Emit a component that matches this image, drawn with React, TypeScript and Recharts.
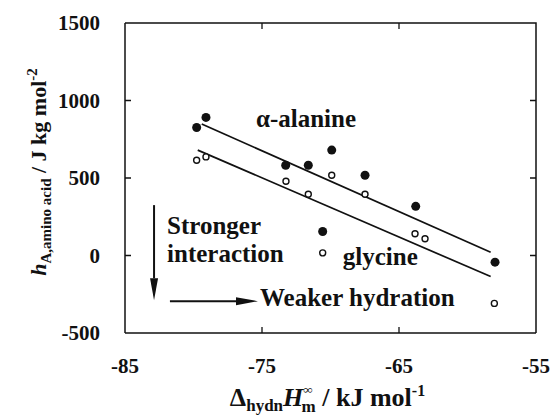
import React from 'react';
import {
  ComposedChart, Scatter, Line, XAxis, YAxis, Label, ReferenceDot, ReferenceLine,
} from 'recharts';

// axis ticks
const xTicks = [-85, -75, -65, -55];
const yTicks = [-500, 0, 500, 1000, 1500];

// alpha-alanine (filled circles)
const alanineX = [-79.77, -79.09, -73.27, -71.62, -70.57, -69.91, -67.48, -63.78, -57.99];
const alanineY = [826, 891, 582, 582, 155, 680, 518, 317, -43];

// glycine (open circles)
const glycineX = [-79.77, -79.09, -73.25, -71.62, -70.57, -69.91, -67.48, -63.83, -63.1, -58.04];
const glycineY = [615, 636, 479, 395, 17, 518, 395, 140, 108, -309];

// fitted straight lines (end points)
const alanineFitX = [-79.4, -58.31];
const alanineFitY = [848, 21];
const glycineFitX = [-79.69, -58.31];
const glycineFitY = [680, -136];

const zip = (xs: number[], ys: number[]) => xs.map((x, i) => ({ x, y: ys[i] }));

const alanine = zip(alanineX, alanineY);
const glycine = zip(glycineX, glycineY);
const alanineFit = zip(alanineFitX, alanineFitY);
const glycineFit = zip(glycineFitX, glycineFitY);

const xMin = xTicks[0];
const xMax = xTicks[xTicks.length - 1];
const yMin = yTicks[0];
const yMax = yTicks[yTicks.length - 1];

// layout
const W = 556;
const H = 419;
const M = { top: 23, right: 20, bottom: 0, left: 0 };
const Y_AXIS_W = 125;
const X_AXIS_H = 86;
const PLOT_W = W - M.left - M.right - Y_AXIS_W;
const PLOT_H = H - M.top - M.bottom - X_AXIS_H;

const INK = '#111';
const txt = (size: number): React.CSSProperties => ({
  fontFamily: '"Liberation Serif", "Times New Roman", serif',
  fontWeight: 700,
  fontSize: size,
  fill: INK,
});

const same = (a: any, b: number) => Math.abs(Number(a) - b) < 1e-6;

// bottom ticks also draw the mirrored inward ticks on the top side
const BottomTick = (props: any) => {
  const x = Number(props.x);
  const y = Number(props.y);
  const v = props.payload.value;
  const inner = !same(v, xMin) && !same(v, xMax);
  const top = y - PLOT_H;
  return (
    <g>
      {inner ? (
        <path d={`M${x},${y}V${y - 6}M${x},${top}V${top + 6}`} stroke={INK} strokeWidth={1.3} fill="none" />
      ) : null}
      <text x={x} y={y + 40} textAnchor="middle" style={txt(21)}>
        {v}
      </text>
    </g>
  );
};

// left ticks also draw the mirrored inward ticks on the right side
const LeftTick = (props: any) => {
  const x = Number(props.x);
  const y = Number(props.y);
  const v = props.payload.value;
  const inner = !same(v, yMin) && !same(v, yMax);
  const right = x + PLOT_W;
  return (
    <g>
      {inner ? (
        <path d={`M${x},${y}H${x + 6}M${right},${y}H${right - 6}`} stroke={INK} strokeWidth={1.3} fill="none" />
      ) : null}
      <text x={x - 25} y={y + 7} textAnchor="end" style={txt(21)}>
        {v}
      </text>
    </g>
  );
};

// y title; its label box (the y-axis band) also gives the top and right sides of the frame
const YTitle = (props: any) => {
  const vb = props.viewBox;
  const left = Number(vb.x) + Number(vb.width);
  const top = Number(vb.y);
  const bottom = top + Number(vb.height);
  const right = left + PLOT_W;
  const cx = Number(vb.x) + 46;
  const cy = top + Number(vb.height) / 2 - 6;
  return (
    <g>
      <path d={`M${left},${top}H${right}V${bottom}`} stroke={INK} strokeWidth={1.5} fill="none" />
      <text x={cx} y={cy} transform={`rotate(-90, ${cx}, ${cy})`} textAnchor="middle" style={txt(22)}>
        <tspan fontStyle="italic">h</tspan>
        <tspan fontSize={15} dy={5}>A,amino acid</tspan>
        <tspan dy={-5}> / J kg mol</tspan>
        <tspan fontSize={15} dy={-9}>-2</tspan>
      </text>
    </g>
  );
};

const XTitle = (props: any) => {
  const { viewBox } = props;
  const cx = viewBox.x + viewBox.width / 2 - 3;
  const cy = viewBox.y + 73;
  return (
    <text x={cx} y={cy} textAnchor="middle" style={txt(26)}>
      <tspan>Δ</tspan>
      <tspan fontSize={17} dy={5}>hydn</tspan>
      <tspan fontStyle="italic" dy={-5}>H</tspan>
      <tspan fontSize={13} dy={-12}>∞</tspan>
      <tspan fontSize={17} dx={-11} dy={18}>m</tspan>
      <tspan dy={-6}> / kJ mol</tspan>
      <tspan fontSize={16} dy={-10}>-1</tspan>
    </text>
  );
};

const textShape = (lines: string[]) => (p: any) => (
  <text x={p.cx} y={p.cy} style={txt(25)}>
    {lines.map((s, i) => (
      <tspan key={s} x={p.cx} dy={i === 0 ? 0 : 28}>{s}</tspan>
    ))}
  </text>
);

const Arrow = (p: any) => {
  const { x1, y1, x2, y2 } = p;
  const len = Math.hypot(x2 - x1, y2 - y1);
  const ux = (x2 - x1) / len;
  const uy = (y2 - y1) / len;
  const head = 22;
  const half = 4;
  const bx = x2 - ux * head;
  const by = y2 - uy * head;
  return (
    <g>
      <line x1={x1} y1={y1} x2={bx} y2={by} stroke={INK} strokeWidth={2} />
      <polygon
        points={`${x2},${y2} ${bx - uy * half},${by + ux * half} ${bx + uy * half},${by - ux * half}`}
        fill={INK}
      />
    </g>
  );
};

const filledDot = (p: any) => <circle cx={p.cx} cy={p.cy} r={4.5} fill={INK} />;
const openDot = (p: any) => <circle cx={p.cx} cy={p.cy} r={3} fill="#fff" stroke={INK} strokeWidth={1.4} />;

export default function App() {
  return (
    <div style={{ position: 'absolute', left: 0, top: 0, background: '#fff' }}>
      <ComposedChart width={W} height={H} margin={M}>
        <XAxis
          dataKey="x" type="number" domain={[xMin, xMax]} ticks={xTicks} interval={0}
          height={X_AXIS_H} tickSize={0} tickMargin={0} tickLine={false}
          axisLine={{ stroke: INK, strokeWidth: 1.5 }} tick={<BottomTick />}
        >
          <Label content={<XTitle />} />
        </XAxis>
        <YAxis
          type="number" domain={[yMin, yMax]} ticks={yTicks} interval={0} width={Y_AXIS_W}
          tickSize={0} tickMargin={0} tickLine={false}
          axisLine={{ stroke: INK, strokeWidth: 1.5 }} tick={<LeftTick />}
        >
          <Label content={<YTitle />} />
        </YAxis>

        <Line data={alanineFit} dataKey="y" type="linear" stroke={INK} strokeWidth={1.7} dot={false} isAnimationActive={false} />
        <Line data={glycineFit} dataKey="y" type="linear" stroke={INK} strokeWidth={1.7} dot={false} isAnimationActive={false} />
        <Scatter data={alanine} dataKey="y" shape={filledDot} isAnimationActive={false} />
        <Scatter data={glycine} dataKey="y" shape={openDot} isAnimationActive={false} />

        <ReferenceDot x={-75.44} y={829} r={0} shape={textShape(['α-alanine'])} />
        <ReferenceDot x={-81.93} y={138} r={0} shape={textShape(['Stronger', 'interaction'])} />
        <ReferenceDot x={-69.1} y={-63} r={0} shape={textShape(['glycine'])} />
        <ReferenceDot x={-75.15} y={-327} r={0} shape={textShape(['Weaker hydration'])} />

        <ReferenceLine segment={[{ x: -82.88, y: 325 }, { x: -82.88, y: -289 }]} shape={Arrow} />
        <ReferenceLine segment={[{ x: -81.72, y: -295 }, { x: -75.29, y: -295 }]} shape={Arrow} />
      </ComposedChart>
    </div>
  );
}
